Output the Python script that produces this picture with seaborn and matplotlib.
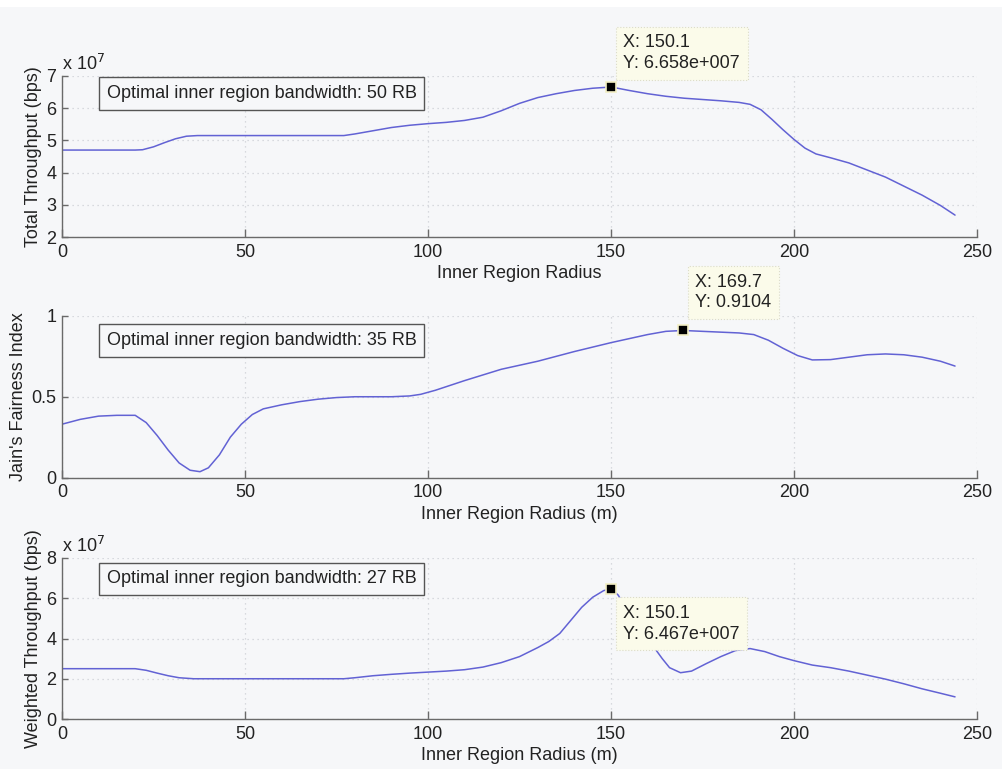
import numpy as np
import matplotlib
matplotlib.use("Agg")
import matplotlib.pyplot as plt
from matplotlib.patches import Rectangle
import seaborn as sns

# ---- data -------------------------------------------------------------
# Total throughput vs inner region radius (units of 1e7 bps)
radius_tp = [0, 5, 10, 15, 20, 22, 25, 28, 31, 34, 37, 45, 55, 65, 77, 80, 85, 90,
             95, 100, 105, 110, 115, 120, 125, 130, 135, 140, 145, 150.1, 155, 160,
             165, 170, 175, 180, 185, 188, 191, 194, 197, 200, 203, 206, 210, 215,
             220, 225, 230, 235, 240, 244]
total_tp = [4.70, 4.70, 4.70, 4.70, 4.70, 4.71, 4.80, 4.93, 5.05, 5.13, 5.15, 5.15,
            5.15, 5.15, 5.15, 5.20, 5.30, 5.40, 5.47, 5.52, 5.56, 5.62, 5.72, 5.92,
            6.15, 6.33, 6.45, 6.55, 6.62, 6.658, 6.55, 6.45, 6.37, 6.31, 6.27, 6.23,
            6.18, 6.12, 5.95, 5.65, 5.33, 5.03, 4.76, 4.58, 4.46, 4.30, 4.08, 3.86,
            3.58, 3.30, 2.98, 2.68]

# Jain's fairness index vs inner region radius
radius_fi = [0, 5, 10, 15, 20, 23, 26, 29, 32, 35, 37.7, 40, 43, 46, 49, 52, 55, 60,
             65, 70, 75, 80, 85, 90, 95, 98, 102, 106, 110, 115, 120, 130, 140, 150,
             160, 165, 169.7, 175, 180, 185, 189, 193, 197, 201, 205, 210, 215, 220,
             225, 230, 235, 240, 244]
fairness = [0.33, 0.36, 0.38, 0.385, 0.385, 0.34, 0.26, 0.17, 0.09, 0.045, 0.036,
            0.06, 0.14, 0.25, 0.33, 0.39, 0.425, 0.45, 0.47, 0.485, 0.495, 0.50, 0.50,
            0.50, 0.505, 0.515, 0.54, 0.57, 0.60, 0.635, 0.67, 0.72, 0.78, 0.835,
            0.885, 0.905, 0.9104, 0.905, 0.90, 0.895, 0.885, 0.85, 0.80, 0.755, 0.728,
            0.73, 0.745, 0.76, 0.765, 0.76, 0.745, 0.72, 0.69]

# Weighted throughput vs inner region radius (units of 1e7 bps)
radius_wt = [0, 5, 10, 15, 20, 23, 26, 29, 32, 36, 45, 55, 65, 77, 80, 85, 90, 95,
             100, 105, 110, 115, 120, 125, 130, 133, 136, 139, 142, 145, 148, 150.1,
             152, 154, 156, 158, 160, 162, 164, 166, 169, 172, 176, 180, 184, 188,
             192, 196, 200, 205, 210, 215, 220, 225, 230, 235, 240, 244]
weighted_tp = [2.5, 2.5, 2.5, 2.5, 2.5, 2.42, 2.28, 2.15, 2.05, 2.0, 2.0, 2.0, 2.0,
               2.0, 2.05, 2.15, 2.22, 2.28, 2.33, 2.38, 2.45, 2.58, 2.8, 3.1, 3.55,
               3.85, 4.25, 4.9, 5.55, 6.05, 6.38, 6.467, 6.15, 5.5, 4.8, 4.2, 3.8,
               3.5, 3.0, 2.55, 2.30, 2.38, 2.75, 3.1, 3.4, 3.5, 3.35, 3.1, 2.9, 2.68,
               2.55, 2.38, 2.18, 1.98, 1.75, 1.5, 1.28, 1.1]

x_ticks = [0, 50, 100, 150, 200, 250]
optimal_bw = [50, 35, 27]
tip_index = [29, 36, 31]  # selected data-tip samples per panel

# ---- style ------------------------------------------------------------
sns.set_theme(style="ticks")
plt.rcParams["font.family"] = ["Liberation Sans", "DejaVu Sans"]
bg = "#f6f7f9"
line_color = "#6262d4"
spine_color = "#6a6a6a"
text_color = "#222222"

fig = plt.figure(figsize=(10.02, 7.69), dpi=100, facecolor=bg)
fig.patches.append(Rectangle((0, 1 - 7 / 769), 1, 7 / 769, transform=fig.transFigure,
                             facecolor="white", edgecolor="none", zorder=0))

W, H = 1002, 769
left, right = 62 / W, 977 / W
rows = [(76, 237), (316, 477.5), (558, 719)]
axes = [fig.add_axes([left, 1 - b / H, right - left, (b - t) / H]) for t, b in rows]


def sci_text(v):
    mant, exp = f"{v:.3e}".split("e")
    return f"{mant}e{exp[0]}{int(exp[1:]):03d}"


panels = [
    dict(x=radius_tp, y=total_tp, ylim=(2, 7), yticks=[2, 3, 4, 5, 6, 7],
         ylabel="Total Throughput (bps)", xlabel="Inner Region Radius",
         scale=1e7, box_y=0.891, tip="above", tip_off=(12, 15)),
    dict(x=radius_fi, y=fairness, ylim=(0, 1), yticks=[0, 0.5, 1],
         ylabel="Jain's Fairness Index", xlabel="Inner Region Radius (m)",
         scale=None, box_y=0.848, tip="above", tip_off=(12, 19)),
    dict(x=radius_wt, y=weighted_tp, ylim=(0, 8), yticks=[0, 2, 4, 6, 8],
         ylabel="Weighted Throughput (bps)", xlabel="Inner Region Radius (m)",
         scale=1e7, box_y=0.87, tip="below", tip_off=(12, -16)),
]

for ax, p, bw, ti in zip(axes, panels, optimal_bw, tip_index):
    ax.set_facecolor(bg)
    sns.lineplot(x=p["x"], y=p["y"], ax=ax, color=line_color, linewidth=1.1,
                 estimator=None, sort=False)
    ax.set_xlim(0, 250)
    ax.set_ylim(*p["ylim"])
    ax.set_xticks(x_ticks)
    ax.set_yticks(p["yticks"])
    ax.set_yticklabels([f"{v:g}" for v in p["yticks"]])
    ax.grid(True, linestyle=(0, (1, 3)), color="#cdd0d6", linewidth=0.9)
    for s in ("top", "right"):
        ax.spines[s].set_visible(False)
    for s in ("bottom", "left"):
        ax.spines[s].set_color(spine_color)
        ax.spines[s].set_linewidth(1.0)
    ax.tick_params(axis="x", direction="in", length=6, width=1, color=spine_color,
                   labelsize=13, labelcolor=text_color, pad=5)
    ax.tick_params(axis="y", direction="in", length=4, width=1, color=spine_color,
                   labelsize=13, labelcolor=text_color, pad=4)
    ax.set_xlabel(p["xlabel"], fontsize=13, color=text_color, labelpad=3)
    ax.set_ylabel(p["ylabel"], fontsize=13, color=text_color, labelpad=3)

    if p["scale"]:
        ax.text(0.0, 1.015, r"x 10$^{7}$", transform=ax.transAxes, ha="left",
                va="bottom", fontsize=13, color=text_color)

    ax.text(0.049, p["box_y"], f"Optimal inner region bandwidth: {bw} RB",
            transform=ax.transAxes, ha="left", va="center", fontsize=13,
            color=text_color,
            bbox=dict(boxstyle="square,pad=0.42", facecolor=bg,
                      edgecolor="#555555", linewidth=1.0), zorder=5)

    # data tip at the selected sample
    xs, ys = p["x"][ti], p["y"][ti]
    ax.plot([xs], [ys], marker="s", markersize=7, markerfacecolor="black",
            markeredgecolor="#f3efc4", markeredgewidth=1.2, zorder=7,
            clip_on=False)
    yval = sci_text(ys * p["scale"]) if p["scale"] else f"{ys:g}"
    label = f"X: {xs:g}\nY: {yval}"
    va = "bottom" if p["tip"] == "above" else "top"
    ax.annotate(label, xy=(xs, ys), xytext=p["tip_off"], textcoords="offset pixels",
                ha="left", va=va, fontsize=13, color=text_color, linespacing=1.3,
                annotation_clip=False, zorder=8,
                bbox=dict(boxstyle="square,pad=0.42", facecolor="#fbfbea",
                          edgecolor="#dcdcc8", linewidth=0.8, linestyle=":"))

fig.savefig("out.png", dpi=100, facecolor=bg)
